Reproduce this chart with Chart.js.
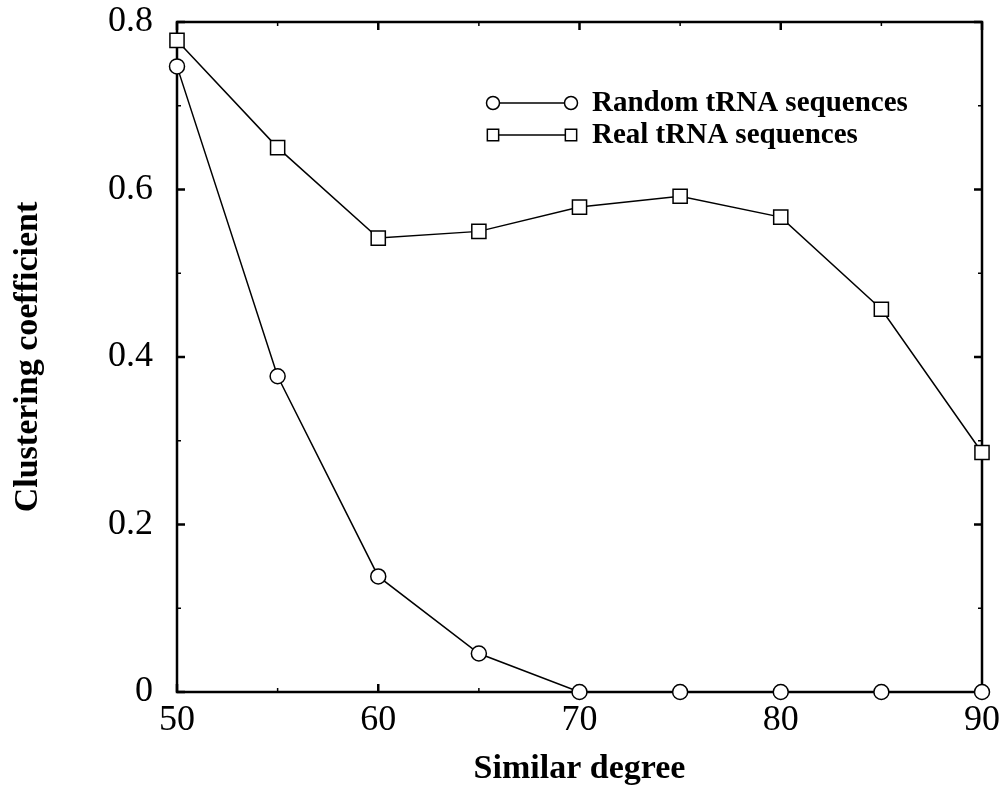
<!DOCTYPE html>
<html>
<head>
<meta charset="utf-8">
<script src="https://cdn.jsdelivr.net/npm/chart.js@4.4.1/dist/chart.umd.min.js"></script>
<style>
  html, body { margin: 0; padding: 0; background: #ffffff; }
  #wrap { width: 1006px; height: 796px; position: relative; }
</style>
</head>
<body>
<div id="wrap"><canvas id="c"></canvas></div>
<script>
// ---- data ----
const similarDegree = [50, 55, 60, 65, 70, 75, 80, 85, 90];
const randomTRNA = [0.747, 0.377, 0.138, 0.046, 0, 0, 0, 0, 0];
const realTRNA = [0.778, 0.650, 0.542, 0.550, 0.579, 0.592, 0.567, 0.457, 0.286];
const xMajorTicks = [50, 60, 70, 80, 90];
const xMinorTicks = [55, 65, 75, 85];
const yMajorTicks = [0, 0.2, 0.4, 0.6, 0.8];
const yMinorTicks = [0.1, 0.3, 0.5, 0.7];
const seriesNames = ['Random tRNA sequences', 'Real tRNA sequences'];

const FONT = "'Liberation Serif', 'Times New Roman', serif";

const toPoints = vals => similarDegree.map((x, i) => ({ x: x, y: vals[i] }));

const framePlugin = {
  id: 'frame',
  beforeDatasetsDraw(chart) {
    const { ctx, chartArea: a, scales } = chart;
    const xs = scales.x, ys = scales.y;
    ctx.save();
    ctx.strokeStyle = '#000';
    ctx.lineCap = 'butt';
    const drawX = (vals, len, w) => {
      ctx.lineWidth = w;
      vals.forEach(v => {
        const px = xs.getPixelForValue(v);
        ctx.beginPath();
        ctx.moveTo(px, a.bottom); ctx.lineTo(px, a.bottom - len);
        ctx.moveTo(px, a.top); ctx.lineTo(px, a.top + len);
        ctx.stroke();
      });
    };
    const drawY = (vals, len, w) => {
      ctx.lineWidth = w;
      vals.forEach(v => {
        const py = ys.getPixelForValue(v);
        ctx.beginPath();
        ctx.moveTo(a.left, py); ctx.lineTo(a.left + len, py);
        ctx.moveTo(a.right, py); ctx.lineTo(a.right - len, py);
        ctx.stroke();
      });
    };
    drawX(xMajorTicks, 8, 2.5);
    drawX(xMinorTicks, 4, 1.5);
    drawY(yMajorTicks, 8, 2.5);
    drawY(yMinorTicks, 4, 1.5);
    ctx.lineWidth = 2.5;
    ctx.strokeRect(a.left, a.top, a.right - a.left, a.bottom - a.top);
    ctx.restore();
  },
  afterDatasetsDraw(chart) {
    const { ctx } = chart;
    const rows = [
      { y: 103, ds: 0, style: 'circle', r: 6.5 },
      { y: 135, ds: 1, style: 'rect', r: 8 }
    ];
    ctx.save();
    rows.forEach(row => {
      const x1 = 493, x2 = 571;
      ctx.strokeStyle = '#000';
      ctx.lineWidth = 1.5;
      ctx.beginPath();
      ctx.moveTo(x1, row.y); ctx.lineTo(x2, row.y);
      ctx.stroke();
      ctx.fillStyle = '#fff';
      ctx.strokeStyle = '#000';
      ctx.lineWidth = 1.5;
      [x1, x2].forEach(px => {
        Chart.helpers.drawPoint(ctx, { pointStyle: row.style, radius: row.r, rotation: 0, borderWidth: 1.5 }, px, row.y);
      });
      ctx.fillStyle = '#000';
      ctx.font = "bold 29px " + FONT;
      ctx.textBaseline = 'middle';
      ctx.textAlign = 'left';
      ctx.fillText(seriesNames[row.ds], 592, row.y + 1);
    });
    ctx.restore();
  }
};

new Chart(document.getElementById('c'), {
  type: 'line',
  data: {
    datasets: [
      {
        label: seriesNames[0],
        data: toPoints(randomTRNA),
        borderColor: '#000',
        borderWidth: 1.5,
        pointStyle: 'circle',
        pointRadius: 7.5,
        pointBorderWidth: 1.5,
        pointBackgroundColor: '#fff',
        pointBorderColor: '#000',
        tension: 0,
        clip: false
      },
      {
        label: seriesNames[1],
        data: toPoints(realTRNA),
        borderColor: '#000',
        borderWidth: 1.5,
        pointStyle: 'rect',
        pointRadius: 10,
        pointBorderWidth: 1.5,
        pointBackgroundColor: '#fff',
        pointBorderColor: '#000',
        tension: 0,
        clip: false
      }
    ]
  },
  options: {
    responsive: true,
    maintainAspectRatio: false,
    animation: false,
    devicePixelRatio: 1,
    layout: { autoPadding: false, padding: { left: 0, right: 24, top: 0, bottom: 0 } },
    plugins: { legend: { display: false }, tooltip: { enabled: false } },
    scales: {
      x: {
        type: 'linear',
        min: 50, max: 90,
        grid: { display: false, drawTicks: false },
        border: { display: false },
        afterBuildTicks: s => { s.ticks = xMajorTicks.map(v => ({ value: v })); },
        afterFit: s => { s.height = 104; s.paddingLeft = 0; s.paddingRight = 0; },
        ticks: {
          color: '#000',
          font: { family: FONT, size: 36 },
          padding: 7,
          maxRotation: 0,
          callback: v => String(v)
        },
        title: {
          display: true,
          text: 'Similar degree',
          color: '#000',
          font: { family: FONT, size: 34, weight: 'bold' },
          padding: { top: 0, bottom: 6 }
        }
      },
      y: {
        type: 'linear',
        min: 0, max: 0.8,
        grid: { display: false, drawTicks: false },
        border: { display: false },
        afterBuildTicks: s => { s.ticks = yMajorTicks.map(v => ({ value: v })); },
        afterFit: s => { s.width = 177; s.paddingTop = 22; s.paddingBottom = 0; },
        ticks: {
          color: '#000',
          font: { family: FONT, size: 36 },
          padding: 24,
          callback: v => (v === 0 ? '0' : v.toFixed(1))
        },
        title: {
          display: true,
          text: 'Clustering coefficient',
          color: '#000',
          font: { family: FONT, size: 34, weight: 'bold' },
          padding: { top: 8, bottom: 0 }
        }
      }
    }
  },
  plugins: [framePlugin]
});
</script>
</body>
</html>
